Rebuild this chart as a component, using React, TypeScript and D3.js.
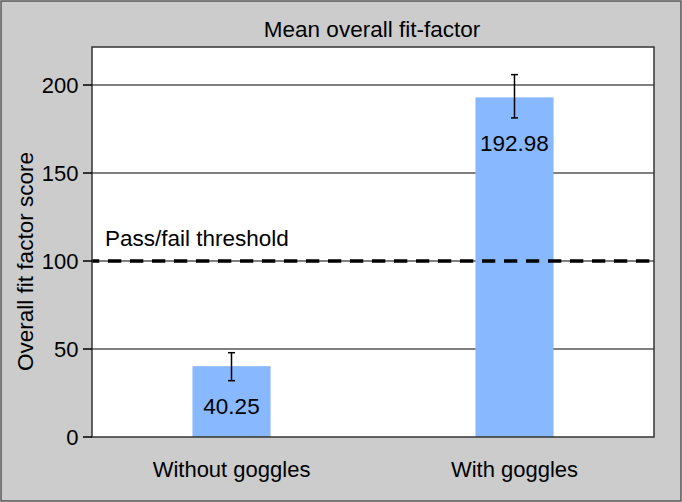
import React from "react";
import * as d3 from "d3";

const categories = ["Without goggles", "With goggles"];
const means = [40.25, 192.98];
const errLow = [32.0, 181.3];
const errHigh = [47.9, 205.9];
const labels = ["40.25", "192.98"];
const yTicks = [0, 50, 100, 150, 200];
const threshold = 100;
const thresholdLabel = "Pass/fail threshold";
const title = "Mean overall fit-factor";
const yTitle = "Overall fit factor score";

const W = 682, H = 502;
const plot = { left: 92, right: 654, top: 47, bottom: 437 };
const FONT = "'Liberation Sans', Arial, Helvetica, sans-serif";

export default function App() {
  const y = d3.scaleLinear().domain([0, 221.6]).range([plot.bottom, plot.top]);
  const x = d3.scaleBand<string>().domain(categories).range([plot.left, plot.right]).paddingInner(0.724).paddingOuter(0.355);
  const bw = x.bandwidth();
  return (
    <svg width={W} height={H} style={{ position: "absolute", left: 0, top: 0 }} fontFamily={FONT}>
      <rect x={1} y={1} width={W - 2} height={H - 2} fill="#cccccc" stroke="#555" strokeWidth={1.5} />
      <rect x={plot.left} y={plot.top} width={plot.right - plot.left} height={plot.bottom - plot.top} fill="#fff" />
      {yTicks.filter(t => t > 0).map(t => (
        <line key={"g" + t} x1={plot.left} x2={plot.right} y1={y(t)} y2={y(t)} stroke="#808080" strokeWidth={2} />
      ))}
      {categories.map((c, i) => (
        <rect key={"b" + c} x={x(c)} y={y(means[i])} width={bw} height={plot.bottom - y(means[i])} fill="#88b8ff" />
      ))}
      <line x1={plot.left} x2={plot.right} y1={y(threshold)} y2={y(threshold)} stroke="#000" strokeWidth={3.5} strokeDasharray="13.3 8.7" strokeDashoffset={6} />
      <text x={105} y={246} fontSize={22.5} fill="#000">{thresholdLabel}</text>
      {categories.map((c, i) => {
        const cx = (x(c) as number) + bw / 2;
        return (
          <g key={"e" + c}>
            <line x1={cx} x2={cx} y1={y(errHigh[i])} y2={y(errLow[i])} stroke="#000" strokeWidth={1.5} />
            <line x1={cx - 3.5} x2={cx + 3.5} y1={y(errHigh[i])} y2={y(errHigh[i])} stroke="#000" strokeWidth={1.5} />
            <line x1={cx - 3.5} x2={cx + 3.5} y1={y(errLow[i])} y2={y(errLow[i])} stroke="#000" strokeWidth={1.5} />
            <text x={cx} y={y(errLow[i]) + 33} textAnchor="middle" fontSize={22.5} fill="#000">{labels[i]}</text>
            <text x={cx} y={477} textAnchor="middle" fontSize={22} fill="#000">{c}</text>
          </g>
        );
      })}
      <rect x={plot.left} y={plot.top} width={plot.right - plot.left} height={plot.bottom - plot.top} fill="none" stroke="#333" strokeWidth={1.5} />
      {yTicks.map(t => (
        <g key={"t" + t}>
          <line x1={plot.left - 9} x2={plot.left} y1={y(t)} y2={y(t)} stroke="#000" strokeWidth={1.5} />
          <text x={78.5} y={y(t)} dy="0.36em" textAnchor="end" fontSize={22} fill="#000">{t}</text>
        </g>
      ))}
      <text x={372} y={37} textAnchor="middle" fontSize={22.5} fill="#000">{title}</text>
      <text transform={`translate(33,261.5) rotate(-90)`} textAnchor="middle" fontSize={22.5} fill="#000">{yTitle}</text>
    </svg>
  );
}
